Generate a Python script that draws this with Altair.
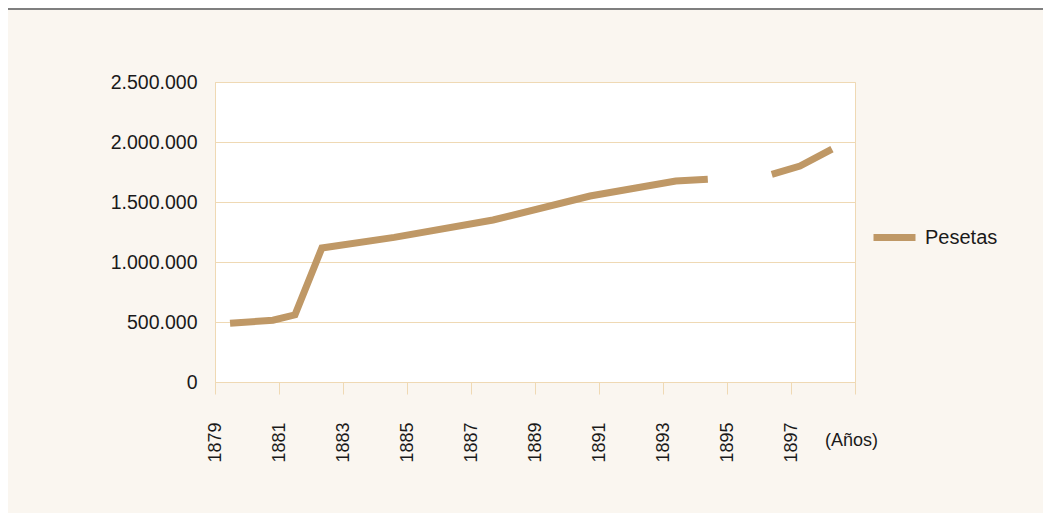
import altair as alt
import pandas as pd

years = [1879.47, 1880.81, 1881.5, 1882.34, 1884.6, 1887.69, 1890.72, 1893.4, 1894.4,
         1896.4, 1897.28, 1898.28]
pesetas = [490000, 515000, 560000, 1117000, 1205000, 1350000, 1550000, 1675000, 1690000,
           1730000, 1800000, 1940000]
segments = [1, 1, 1, 1, 1, 1, 1, 1, 1, 2, 2, 2]
x_ticks = list(range(1879, 1900, 2))
y_ticks = [0, 500000, 1000000, 1500000, 2000000, 2500000]
series_name = "Pesetas"

LINE = "#bf9866"
TAN = "#efd9b4"
BG = "#faf6f0"
TXT = "#1a1a1a"
FONT = "Liberation Sans"

df = pd.DataFrame({"year": years, "value": pesetas, "seg": segments,
                   "serie": [series_name] * len(years)})

line = alt.Chart(df).mark_line(strokeWidth=7, strokeCap="butt", strokeJoin="miter").encode(
    x=alt.X("year:Q",
            scale=alt.Scale(domain=[1879, 1899], nice=False, zero=False),
            axis=alt.Axis(values=x_ticks, labelAngle=270, grid=False, tickSize=12,
                          tickColor=TAN, domainColor=TAN, labelPadding=28, title=None,
                          labelFontSize=18, labelFont=FONT, labelColor=TXT,
                          labelExpr="datum.value == 1899 ? '' : format(datum.value, 'd')")),
    y=alt.Y("value:Q",
            scale=alt.Scale(domain=[0, 2500000], nice=False),
            axis=alt.Axis(values=y_ticks, grid=True, gridColor=TAN, tickSize=0,
                          domainColor=TAN, labelPadding=18, title=None,
                          labelFontSize=19.5, labelFont=FONT, labelColor=TXT,
                          labelExpr="replace(replace(format(datum.value, ','), ',', '.'), ',', '.')")),
    detail="seg:N",
    color=alt.Color("serie:N", scale=alt.Scale(range=[LINE]),
                    legend=alt.Legend(title=None, orient="none", legendX=655, legendY=131,
                                      symbolType="stroke", symbolSize=1764,
                                      symbolStrokeWidth=7, labelFontSize=20,
                                      labelFont=FONT, labelColor=TXT, labelOffset=6)),
)

anos = alt.Chart(pd.DataFrame({"t": ["(Años)"]})).mark_text(
    align="left", baseline="middle", fontSize=18, font=FONT, color=TXT
).encode(x=alt.value(610), y=alt.value(359), text="t:N")

top_rule = alt.Chart(pd.DataFrame({"a": [0]})).mark_rule(color="#7f7f7f", strokeWidth=2).encode(
    x=alt.value(-207), x2=alt.value(828), y=alt.value(-73)
)

chart = alt.layer(line, anos, top_rule).properties(
    width=640, height=300,
    padding={"left": 207, "top": 74, "right": 188, "bottom": 131},
    autosize=alt.AutoSizeParams(type="none"),
).configure(background=BG).configure_view(fill="white", stroke=TAN)

chart.save("out.html", embed_options={"renderer": "svg", "actions": False})
